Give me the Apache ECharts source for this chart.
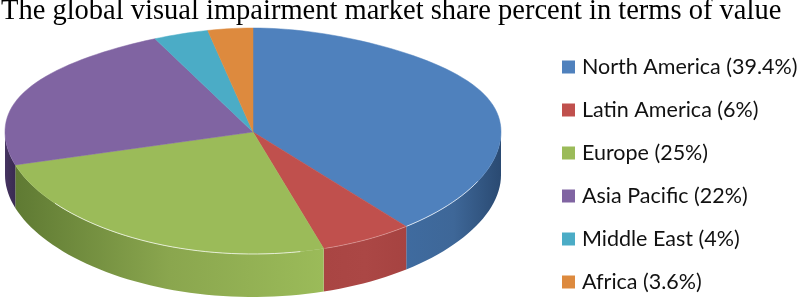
<!DOCTYPE html>
<html>
<head>
<meta charset="utf-8">
<style>
html, body { margin: 0; padding: 0; background: #fff; }
#pie_chart { width: 800px; height: 299px; }
</style>
<script src="https://cdn.jsdelivr.net/npm/echarts@6/dist/echarts.min.js"></script>
</head>
<body>
<div id="pie_chart"></div>
<script>
const title = "The global visual impairment market share percent in terms of value";
const regions = ["North America", "Latin America", "Europe", "Asia Pacific", "Middle East", "Africa"];
const shares = [39.4, 6, 25, 22, 4, 3.6];
const shareLabels = ["39.4%", "6%", "25%", "22%", "4%", "3.6%"];

const colors = ["#4f81bd", "#c0504d", "#9bbb59", "#8064a2", "#4bacc6", "#dd8a3e"];
const side_colors = [
    ["#3f6b9f", "#3e6798", "#2a4a72"],
    ["#a94543", "#ab4745", "#a64341"],
    ["#5f7a33", "#8aa64e", "#9bbb59"],
    ["#463462", "#3f2f58", "#3a2a52"],
    ["#4bacc6", "#4bacc6", "#4bacc6"],
    ["#dd8a3e", "#dd8a3e", "#dd8a3e"],
];
// where the thin light line runs on the front rim, in degrees clockwise from 12 o'clock
const rim_lines = [[115, 141.8, 0.9], [142, 163, 0.35], [169, 233, 0.9], null, null, null];

const CX = 253, CY = 132, RX = 248, DEPTH = 43;

// slightly tilted perspective: the far half is flatter and narrower than the near half
function project(deg) {
    let a = (deg * Math.PI) / 180;
    let s = Math.sin(a), down = -Math.cos(a);
    let narrow = down < 0 ? 1 - 0.2 * Math.pow(-down, 3) : 1;
    return [CX + RX * s * narrow, CY + 113 * down + 9 * down * down];
}

function arc(from, to) {
    let pts = [];
    let steps = Math.max(2, Math.ceil(Math.abs(to - from) / 2));
    for (let i = 0; i <= steps; i++) {
        pts.push(project(from + ((to - from) * i) / steps));
    }
    return pts;
}

function make_item(idx) {
    return function (params, api) {
        let from = api.value(0), to = api.value(1);
        let children = [];

        // side wall, only the part facing the viewer
        let a = Math.max(from, 90), b = Math.min(to, 270);
        if (b > a) {
            let rim = arc(a, b);
            let low = rim.slice().reverse().map((p) => [p[0], p[1] + DEPTH]);
            let stops = side_colors[idx];
            children.push({
                type: "polygon",
                shape: { points: rim.concat(low) },
                style: {
                    fill: {
                        type: "linear", x: 0, y: 0, x2: 1, y2: 0,
                        colorStops: [
                            { offset: 0, color: stops[0] },
                            { offset: 0.5, color: stops[1] },
                            { offset: 1, color: stops[2] },
                        ],
                    },
                },
            });
        }

        let top = [[CX, CY]].concat(arc(from, to));
        children.push({
            type: "polygon",
            shape: { points: top },
            style: { fill: colors[idx], stroke: colors[idx], lineWidth: 0.5 },
        });

        let line = rim_lines[idx];
        if (line) {
            children.push({
                type: "polyline",
                shape: { points: arc(line[0], line[1]) },
                style: { fill: null, stroke: "#fff", opacity: line[2], lineWidth: 0.8 },
            });
        }
        return { type: "group", children: children };
    };
}

let start = 0;
let series = regions.map((name, i) => {
    let from = (start / 100) * 360;
    start += shares[i];
    let to = (start / 100) * 360;
    return {
        type: "custom",
        name: `${name} (${shareLabels[i]})`,
        coordinateSystem: "none",
        renderItem: make_item(i),
        itemStyle: { color: colors[i] },
        data: [[from, to]],
        silent: true,
    };
});

let chart = echarts.init(document.getElementById("pie_chart"));
chart.setOption({
    animation: false,
    title: {
        text: title,
        left: 1,
        top: -3,
        padding: 0,
        textStyle: {
            fontFamily: "Liberation Serif",
            fontWeight: "normal",
            fontSize: 28.5,
            color: "#000",
        },
    },
    legend: {
        orient: "vertical",
        left: 562,
        top: 56,
        padding: 0,
        icon: "rect",
        itemWidth: 13,
        itemHeight: 13,
        itemGap: 21,
        selectedMode: false,
        textStyle: {
            fontFamily: "Lato",
            fontSize: 21.5,
            color: "#111",
            lineHeight: 22,
            padding: [0, 0, 0, 2],
        },
    },
    series: series,
});
</script>
</body>
</html>
